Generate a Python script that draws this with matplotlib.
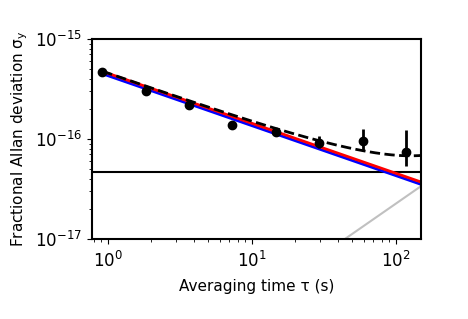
import numpy as np
import matplotlib
matplotlib.use("Agg")
import matplotlib.pyplot as plt

tau = [0.92, 1.84, 3.68, 7.36, 14.7, 29.4, 58.9, 118.0]
adev = [4.7e-16, 3.04e-16, 2.2e-16, 1.39e-16, 1.17e-16, 0.91e-16, 0.96e-16, 0.74e-16]
err_lo = [0.0, 0.0, 0.0, 0.0, 0.06e-16, 0.1e-16, 0.2e-16, 0.2e-16]
err_hi = [0.0, 0.0, 0.0, 0.0, 0.06e-16, 0.15e-16, 0.3e-16, 0.5e-16]

white_red = 4.55e-16      # sigma at tau = 1 s, red model
white_blue = 4.31e-16     # sigma at tau = 1 s, blue model
flicker = 4.65e-17        # flat floor
drift = 2.25e-19          # linear drift coefficient

t = np.logspace(np.log10(0.92), np.log10(160), 300)
red = white_red / np.sqrt(t)
blue = white_blue / np.sqrt(t)
floor = np.full_like(t, flicker)
drift_l = drift * t
total = np.sqrt(red**2 + floor**2 + drift_l**2)

fig = plt.figure(figsize=(4.68, 3.19), dpi=100)
ax = fig.add_axes([92/468, 80/319, 329/468, 200/319])

ax.plot(t, drift_l, color='#c0c0c0', lw=1.5)
ax.axhline(flicker, color='black', lw=1.5)
ax.plot(t, blue, color='blue', lw=2)
ax.plot(t, red, color='red', lw=2)
ax.plot(t, total, color='black', lw=2, ls='--')
ax.errorbar(tau, adev, yerr=[err_lo, err_hi], fmt='o', color='black',
            ms=6, elinewidth=2, capsize=0)

ax.set_xscale('log')
ax.set_yscale('log')
ax.set_xlim(0.78, 150)
ax.set_ylim(1e-17, 1e-15)
ax.set_xlabel('Averaging time τ (s)', fontsize=11, labelpad=6)
ax.set_ylabel('Fractional Allan deviation σ$_\\mathregular{y}$', fontsize=11)
ax.tick_params(which='major', labelsize=12)
ax.tick_params(axis='x', which='major', pad=5)
for s in ax.spines.values():
    s.set_linewidth(1.5)

fig.savefig('out.png', dpi=100)
